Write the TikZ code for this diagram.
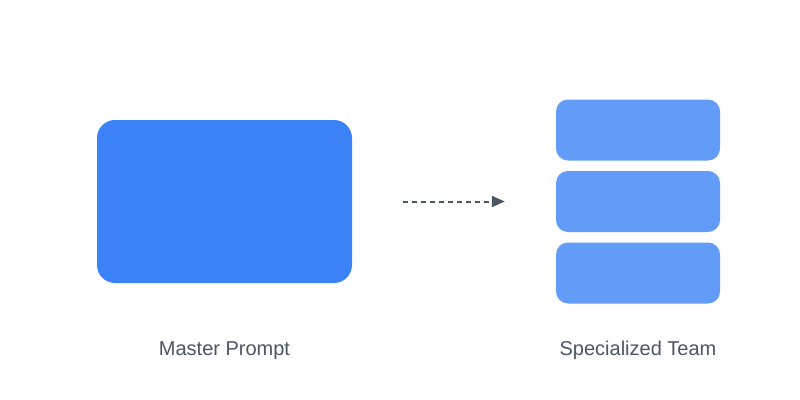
\documentclass[tikz,border=0pt]{standalone}
\usepackage{fontspec}
\setmainfont{Liberation Sans}
\usetikzlibrary{arrows.meta,positioning}
\definecolor{mainblue}{HTML}{3B82F6}
\definecolor{teamblue}{HTML}{629BF8}
\definecolor{slate}{HTML}{4B5563}
\begin{document}
\begin{tikzpicture}[x=1pt,y=-1pt,font=\fontsize{20}{24}\selectfont,
  master/.style={fill=mainblue,rounded corners=18pt,minimum width=255pt,minimum height=163pt,inner sep=0pt},
  agent/.style={fill=teamblue,rounded corners=12pt,minimum width=164pt,minimum height=61pt,inner sep=0pt},
  lbl/.style={text=slate,anchor=base,inner sep=0pt},
  handoff/.style={-{Triangle[length=13pt,width=11pt]},line width=2pt,slate,dash pattern=on 5pt off 4pt}]
\useasboundingbox (0,0) rectangle (800,399);
\node[master](m) at(224.5,201.5){};
\node[agent](t1) at(638,130){};
\node[agent](t2) at(638,201.5){};
\node[agent](t3) at(638,273){};
\draw[handoff,shorten <=51pt,shorten >=51pt](m.east)--(t2.west);
\node[lbl](ml) at(224.5,355){Master Prompt};
\node[lbl](tl) at(638,355){Specialized Team};
\end{tikzpicture}
\end{document}
